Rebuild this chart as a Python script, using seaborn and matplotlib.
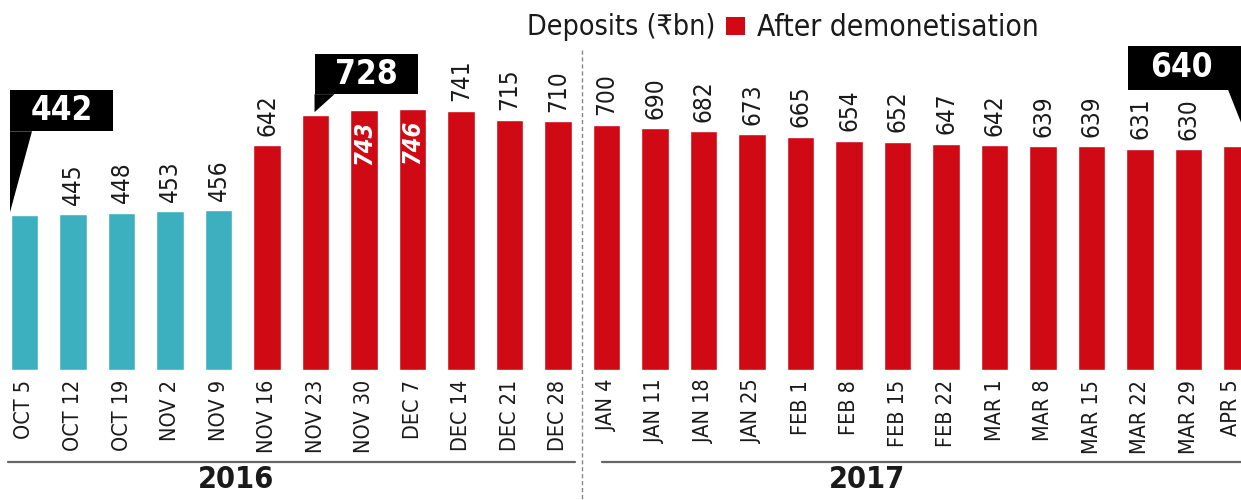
import matplotlib
matplotlib.use("Agg")
import matplotlib.pyplot as plt
import seaborn as sns
import pandas as pd
from matplotlib import font_manager
from matplotlib.patches import Polygon, Rectangle
from matplotlib.transforms import Affine2D, ScaledTranslation, blended_transform_factory

# weekly deposits (Rs bn)
dates = ["OCT 5", "OCT 12", "OCT 19", "NOV 2", "NOV 9", "NOV 16", "NOV 23",
         "NOV 30", "DEC 7", "DEC 14", "DEC 21", "DEC 28", "JAN 4", "JAN 11",
         "JAN 18", "JAN 25", "FEB 1", "FEB 8", "FEB 15", "FEB 22", "MAR 1",
         "MAR 8", "MAR 15", "MAR 22", "MAR 29", "APR 5"]
deposits = [442, 445, 448, 453, 456, 642, 728, 743, 746, 741, 715, 710, 700,
            690, 682, 673, 665, 654, 652, 647, 642, 639, 639, 631, 630, 640]
period = ["Before"] * 5 + ["After"] * 21
years = ["2016", "2017"]

df = pd.DataFrame({"date": dates, "deposits": deposits, "period": period})

RED = "#d00a14"
TEAL = "#3cb0bf"

sns.set_theme(style="white")
names = {f.name for f in font_manager.fontManager.ttflist}
NARROW = "Liberation Sans Narrow" if "Liberation Sans Narrow" in names else "DejaVu Sans"
FAM = [NARROW, "DejaVu Sans"]
plt.rcParams["font.family"] = FAM
plt.rcParams["font.stretch"] = "condensed"

fig = plt.figure(figsize=(12.41, 5), dpi=100)
ax = fig.add_axes([0, 0.26, 1, 0.74])

sns.barplot(data=df, x="date", y="deposits", hue="period",
            palette={"Before": TEAL, "After": RED}, dodge=False,
            width=0.57, saturation=1, legend=False, ax=ax)

ax.set_xlim(-0.505, 25.08)
ax.set_ylim(0, 1057)
ax.set(xlabel="", ylabel="")
ax.set_yticks([])
sns.despine(ax=ax, left=True, bottom=True)
ax.set_xticks(range(len(dates)))
ax.set_xticklabels(dates, rotation=90, fontsize=15.5, color="#1a1a1a")
ax.tick_params(axis="x", length=0, pad=7)
# keep the last label inside the canvas
last = ax.get_xticklabels()[-1]
last.set_transform(last.get_transform() + ScaledTranslation(-6 / 100, 0, fig.dpi_scale_trans))

# callouts: pixel offsets from bar top (box, pointer, text position)
callouts = {
    0: dict(box=(-14.5, 84, 103, 41), tri=[(-14.5, 84), (7.5, 84), (-14.5, 3)], txt=(37, 104.5)),
    6: dict(box=(-1, 21, 103, 40), tri=[(-1, 21), (19, 21), (-1, 3)], txt=(50.5, 41)),
    25: dict(box=(-109, 56, 140, 44), tri=[(-9, 56), (24, 56), (12, 3)], txt=(-56, 78)),
}
inside = [7, 8]

for i, v in enumerate(deposits):
    if i in callouts:
        c = callouts[i]
        tr = Affine2D().translate(*ax.transData.transform((i, v)))
        bx, by, bw, bh = c["box"]
        fig.add_artist(Rectangle((bx, by), bw, bh, transform=tr, color="black", lw=0))
        fig.add_artist(Polygon(c["tri"], closed=True, transform=tr, color="black", lw=0))
        fig.text(c["txt"][0], c["txt"][1], str(v), transform=tr, ha="center",
                 va="center", color="white", fontsize=24, fontweight="bold")
    elif i in inside:
        ax.annotate(str(v), (i, v), xytext=(0, -8), textcoords="offset points",
                    rotation=90, ha="center", va="top", color="white",
                    fontsize=17, fontweight="bold", style="italic")
    else:
        ax.annotate(str(v), (i, v), xytext=(0, 7), textcoords="offset points",
                    rotation=90, ha="center", va="bottom", color="#1a1a1a",
                    fontsize=17.5)

# year separators
blend = blended_transform_factory(ax.transData, ax.transAxes)
ax.plot([11.49, 11.49], [0.865, -0.36], transform=blend, clip_on=False,
        color="#888888", lw=1, ls=(0, (3, 2)))
ax.plot([-0.34, 11.35], [-0.249, -0.249], transform=blend, clip_on=False,
        color="#666666", lw=1.6)
ax.plot([11.9, 25.2], [-0.249, -0.249], transform=blend, clip_on=False,
        color="#666666", lw=1.6)
fig.text(236 / 1241, 20 / 500, years[0], ha="center", va="center",
         fontsize=22, fontweight="bold", color="#1a1a1a")
fig.text(867 / 1241, 20 / 500, years[1], ha="center", va="center",
         fontsize=22, fontweight="bold", color="#1a1a1a")

# legend line
fig.text(527 / 1241, 1 - 27 / 500, "Deposits (₹bn)", ha="left", va="center",
         fontsize=20.5, color="#1a1a1a")
fig.add_artist(Rectangle((726 / 1241, 1 - 35 / 500), 19 / 1241, 18 / 500,
                         transform=fig.transFigure, color=RED, lw=0))
fig.text(757 / 1241, 1 - 27 / 500, "After demonetisation", ha="left",
         va="center", fontsize=21.5, color="#1a1a1a")

fig.savefig("out.png", dpi=100)
